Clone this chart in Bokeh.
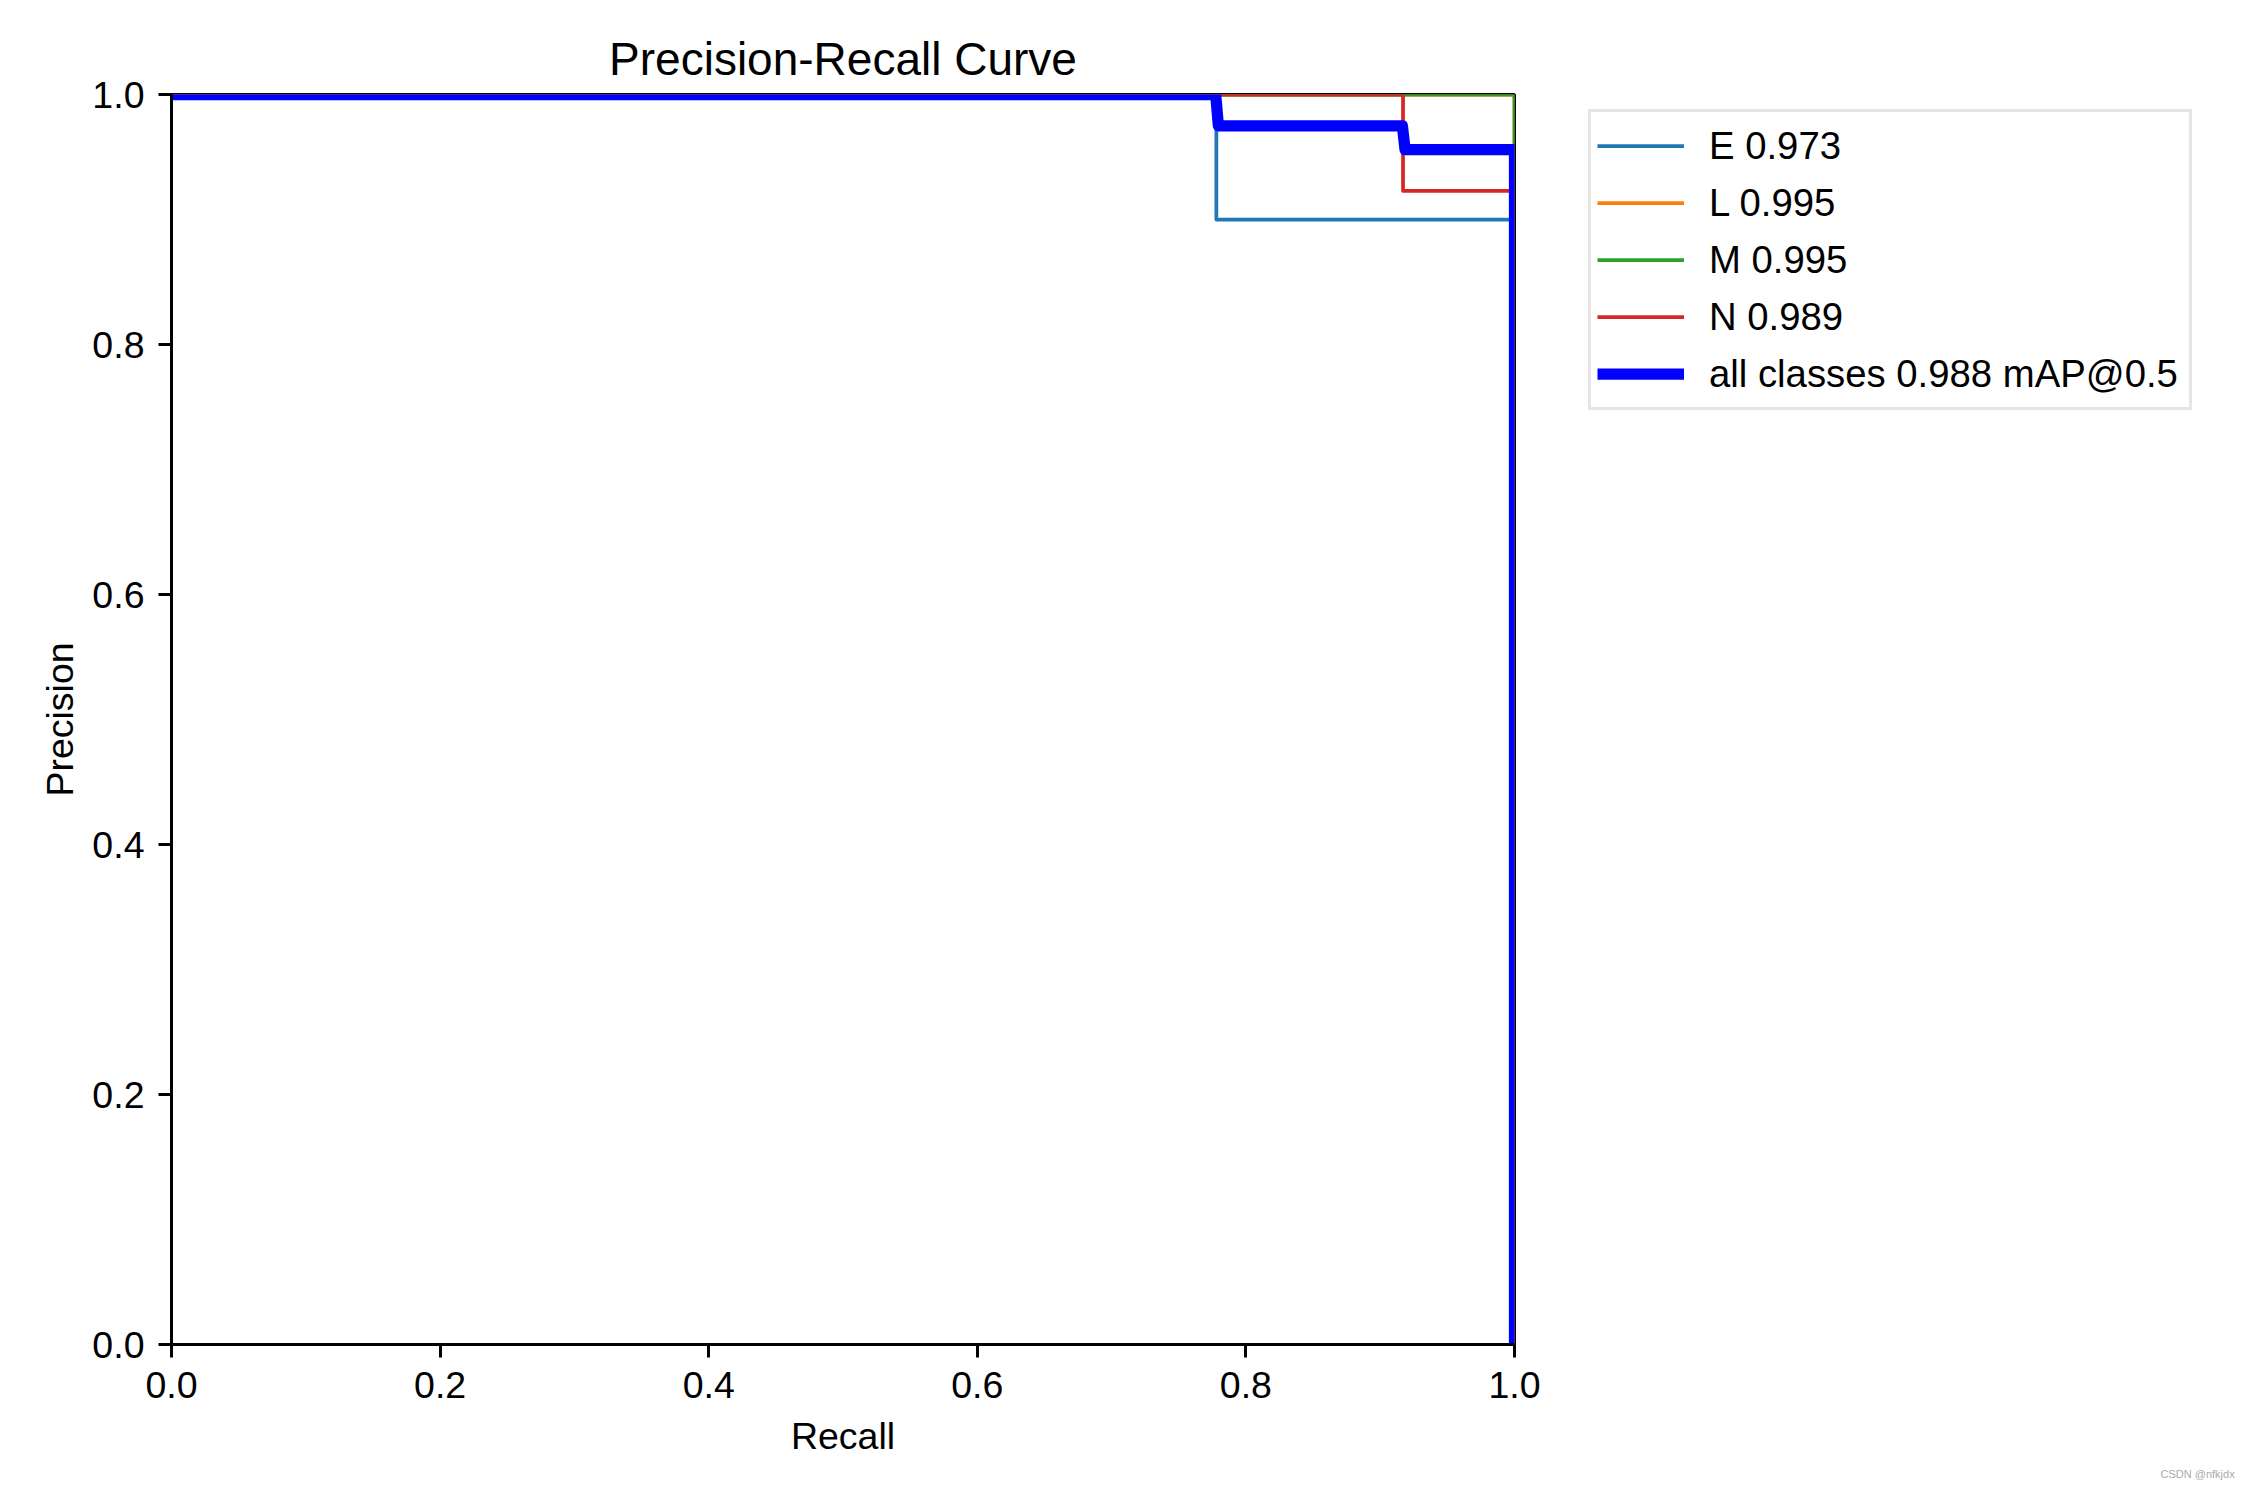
from bokeh.plotting import figure
from bokeh.models import Legend, LegendItem, FixedTicker, PrintfTickFormatter, Title
from bokeh.embed import file_html
from bokeh.resources import INLINE

# ---- data ----
classes = ["E", "L", "M", "N"]
class_ap = [0.973, 0.995, 0.995, 0.989]
all_ap = 0.988

E_recall = [0.0, 0.778, 0.778, 1.0, 1.0]
E_precision = [1.0, 1.0, 0.900, 0.900, 0.0]
L_recall = [0.0, 1.0, 1.0]
L_precision = [1.0, 1.0, 0.0]
M_recall = [0.0, 1.0, 1.0]
M_precision = [1.0, 1.0, 0.0]
N_recall = [0.0, 0.917, 0.917, 1.0, 1.0]
N_precision = [1.0, 1.0, 0.923, 0.923, 0.0]
all_recall = [0.0, 0.7775, 0.7795, 0.9165, 0.9185, 1.0, 1.0]
all_precision = [1.0, 1.0, 0.975, 0.975, 0.956, 0.956, 0.0]

ticks = [0.0, 0.2, 0.4, 0.6, 0.8, 1.0]

colors = ["#1f77b4", "#ff7f0e", "#2ca02c", "#d62728"]
FONT = "Liberation Sans"

p = figure(frame_width=1343, frame_height=1250, x_range=(0, 1), y_range=(0, 1),
           output_backend="svg", toolbar_location=None,
           min_border_left=171, min_border_right=0,
           min_border_top=94, min_border_bottom=0,
           background_fill_color="white", border_fill_color="white")

p.title.text = "Precision-Recall Curve"
p.title.align = "center"
p.title.text_font = FONT
p.title.text_font_size = "46px"
p.title.text_font_style = "normal"
p.title.text_color = "black"
p.title.standoff = 20

p.grid.visible = False
p.outline_line_color = "black"
p.outline_line_width = 3

for ax in (p.xaxis[0], p.yaxis[0]):
    ax.ticker = FixedTicker(ticks=ticks)
    ax.formatter = PrintfTickFormatter(format="%.1f")
    ax.minor_tick_line_color = None
    ax.major_tick_in = 0
    ax.major_tick_out = 13
    ax.major_tick_line_width = 3
    ax.major_tick_line_color = "black"
    ax.axis_line_width = 3
    ax.axis_line_color = "black"
    ax.major_label_text_font = FONT
    ax.major_label_text_font_size = "37.5px"
    ax.major_label_text_color = "black"
    ax.major_label_standoff = 14
    ax.axis_label_text_font = FONT
    ax.axis_label_text_font_size = "37.5px"
    ax.axis_label_text_font_style = "normal"
    ax.axis_label_text_color = "black"
    ax.axis_label_standoff = 14

p.yaxis[0].axis_label_standoff = 8
p.xaxis.axis_label = "Recall"
p.yaxis.axis_label = "Precision"

recalls = [E_recall, L_recall, M_recall, N_recall]
precisions = [E_precision, L_precision, M_precision, N_precision]
items = []
for name, ap, r, pr, c in zip(classes, class_ap, recalls, precisions, colors):
    rend = p.line(r, pr, line_color=c, line_width=3.75, line_join="round")
    items.append(LegendItem(label=f"{name} {ap:.3f}", renderers=[rend]))
rend_all = p.line(all_recall, all_precision, line_color="#0000ff", line_width=11.25, line_join="round")
items.append(LegendItem(label=f"all classes {all_ap:.3f} mAP@0.5", renderers=[rend_all]))

legend = Legend(items=items, location=(74, 934))
legend.margin = 0
legend.padding = 6
legend.spacing = 2
legend.glyph_width = 87
legend.glyph_height = 55
legend.label_height = 55
legend.label_width = 474
legend.label_standoff = 25
legend.label_text_font = FONT
legend.label_text_font_size = "38.3px"
legend.label_text_color = "black"
legend.border_line_color = "#cccccc"
legend.border_line_width = 3
legend.background_fill_alpha = 0.8
p.add_layout(legend, "right")

wm = Title(text="CSDN @nfkjdx", align="left", offset=1989, standoff=12,
           text_font=FONT, text_font_size="11px", text_font_style="normal",
           text_color="#aaaaaa")
p.add_layout(wm, "below")

open("out.html", "w").write(file_html(p, INLINE))
